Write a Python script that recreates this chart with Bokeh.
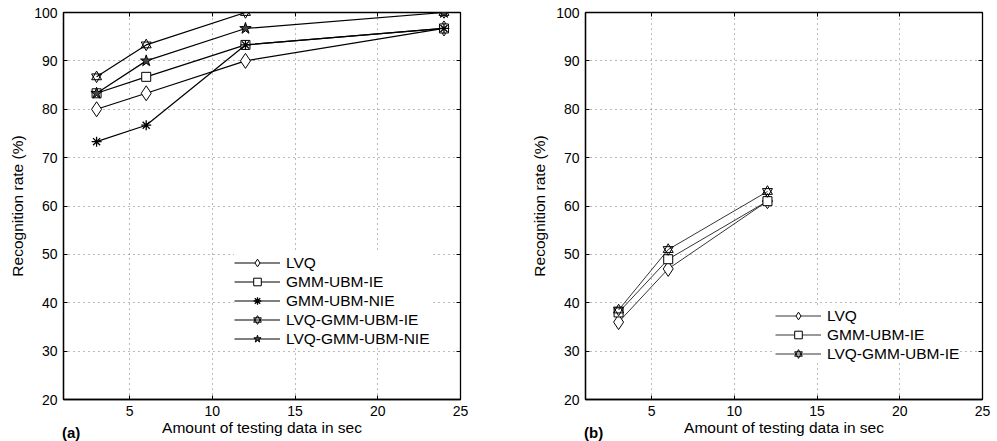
from bokeh.plotting import figure
from bokeh.layouts import row, column
from bokeh.models import FixedTicker, LinearAxis, Range1d, Div, CustomJSTickFormatter
from bokeh.embed import file_html
from bokeh.resources import INLINE

# ---- data ----
x_a = [3, 6, 12, 24]
lvq_a = [80.0, 83.3, 90.0, 96.7]
gmm_ie_a = [83.3, 86.7, 93.3, 96.7]
gmm_nie_a = [73.3, 76.7, 93.3, 96.7]
lvq_gmm_ie_a = [86.7, 93.3, 100.0, 100.0]
lvq_gmm_nie_a = [83.3, 90.0, 96.7, 100.0]

x_b = [3, 6, 12]
lvq_b = [36.0, 47.0, 61.0]
gmm_ie_b = [38.0, 49.0, 61.0]
lvq_gmm_ie_b = [38.5, 51.0, 63.0]

x_ticks = [5, 10, 15, 20, 25]
y_ticks = [20, 30, 40, 50, 60, 70, 80, 90, 100]
x_label = "Amount of testing data in sec"
y_label = "Recognition rate (%)"
panel_labels = ["(a)", "(b)"]

FONT = "Liberation Sans"
TICK_FS = "14px"
LAB_FS = "15.5px"
LEG_FS = "15.5px"


def make_fig(left_border, right_border):
    p = figure(frame_width=397, frame_height=387, x_range=Range1d(1, 25), y_range=Range1d(20, 100),
               output_backend="svg", toolbar_location=None,
               min_border_left=left_border, min_border_right=right_border,
               min_border_top=12, min_border_bottom=42)
    p.outline_line_color = "black"
    p.outline_line_width = 1.3
    p.background_fill_color = "white"
    p.border_fill_color = "white"
    for ax in (p.xaxis[0], p.yaxis[0]):
        ax.major_tick_in = 4
        ax.major_tick_out = 0
        ax.minor_tick_line_color = None
        ax.axis_line_color = "black"
        ax.axis_line_width = 1.3
        ax.major_label_text_font = FONT
        ax.major_label_text_font_size = TICK_FS
        ax.major_label_text_color = "black"
        ax.axis_label_text_font = FONT
        ax.axis_label_text_font_size = LAB_FS
        ax.axis_label_text_font_style = "normal"
        ax.axis_label_text_color = "black"
    p.xaxis.ticker = FixedTicker(ticks=x_ticks)
    p.yaxis.ticker = FixedTicker(ticks=y_ticks)
    p.xaxis.axis_label = x_label
    p.yaxis.axis_label = y_label
    p.xaxis.major_label_standoff = 6
    p.xaxis.axis_label_standoff = 0
    p.yaxis.major_label_standoff = 6
    p.yaxis.axis_label_standoff = 5
    p.xgrid.ticker = FixedTicker(ticks=x_ticks)
    p.ygrid.ticker = FixedTicker(ticks=y_ticks)
    for g in (p.xgrid[0], p.ygrid[0]):
        g.grid_line_color = "#777777"
        g.grid_line_dash = "1 4"
        g.grid_line_width = 1
    # inward ticks on top and right (box style), no labels
    blank = CustomJSTickFormatter(code="return ''")
    top = LinearAxis(ticker=FixedTicker(ticks=x_ticks), major_tick_in=4, major_tick_out=0,
                     minor_tick_line_color=None, axis_line_color=None,
                     formatter=blank, major_label_standoff=0)
    right = LinearAxis(ticker=FixedTicker(ticks=y_ticks), major_tick_in=4, major_tick_out=0,
                       minor_tick_line_color=None, axis_line_color=None,
                       formatter=blank, major_label_standoff=0)
    p.add_layout(top, "above")
    p.add_layout(right, "right")
    return p


def series(p, xs, ys, kind, label, lw):
    p.line(xs, ys, line_color="black", line_width=lw, legend_label=label)
    if kind == "diamond":
        p.scatter(xs, ys, marker="diamond", size=15, fill_color="white", line_color="black",
                  line_width=1, legend_label=label)
    elif kind == "square":
        p.scatter(xs, ys, marker="square", size=9, fill_color="white", line_color="black",
                  line_width=1, legend_label=label)
    elif kind == "asterisk":
        p.scatter(xs, ys, marker="asterisk", size=10, line_color="black", line_width=1.3,
                  legend_label=label)
    elif kind == "hexagram":
        p.scatter(xs, ys, marker="triangle", size=10, fill_color=None, line_color="black",
                  line_width=1, legend_label=label)
        p.scatter(xs, ys, marker="inverted_triangle", size=10, fill_color=None, line_color="black",
                  line_width=1, legend_label=label)
    elif kind == "star":
        p.scatter(xs, ys, marker="star", size=12, fill_color="#444444", line_color="black",
                  line_width=1, legend_label=label)


def style_legend(p, x, y):
    leg = p.legend[0]
    leg.location = (x, y)
    leg.label_text_font = FONT
    leg.label_text_font_size = LEG_FS
    leg.label_text_color = "black"
    leg.glyph_width = 46
    leg.glyph_height = 19
    leg.label_height = 19
    leg.label_standoff = 6
    leg.spacing = 0
    leg.padding = 0
    leg.margin = 0
    leg.border_line_color = None
    leg.background_fill_color = "white"
    leg.background_fill_alpha = 1.0


def panel_div(text, left):
    return Div(text=text, width=30, height=20,
               styles={"position": "absolute", "left": f"{left}px", "top": "423px",
                       "font-family": FONT, "font-size": "15px", "font-weight": "bold",
                       "color": "black", "margin": "0", "padding": "0", "line-height": "20px"})


pa = make_fig(63, 40)
series(pa, x_a, lvq_a, "diamond", "LVQ", 1.2)
series(pa, x_a, gmm_ie_a, "square", "GMM-UBM-IE", 1.2)
series(pa, x_a, gmm_nie_a, "asterisk", "GMM-UBM-NIE", 1.2)
series(pa, x_a, lvq_gmm_ie_a, "hexagram", "LVQ-GMM-UBM-IE", 1.2)
series(pa, x_a, lvq_gmm_nie_a, "star", "LVQ-GMM-UBM-NIE", 1.2)
style_legend(pa, 171, 51)

pb = make_fig(85, 10)
series(pb, x_b, lvq_b, "diamond", "LVQ", 0.8)
series(pb, x_b, gmm_ie_b, "square", "GMM-UBM-IE", 0.8)
series(pb, x_b, lvq_gmm_ie_b, "hexagram", "LVQ-GMM-UBM-IE", 0.8)
style_legend(pb, 190, 36)

layout = column(row(pa, pb), panel_div(panel_labels[0], 62), panel_div(panel_labels[1], 584))
open("out.html", "w").write(file_html(layout, INLINE))
